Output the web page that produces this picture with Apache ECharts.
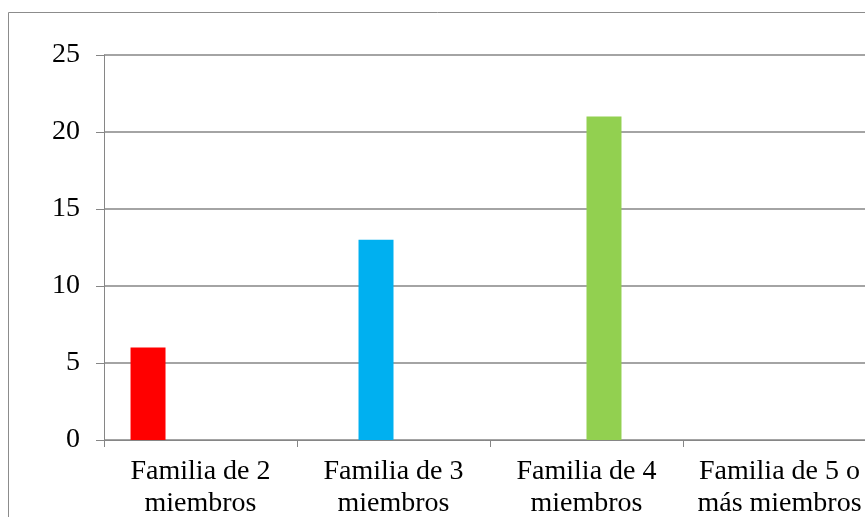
<!DOCTYPE html>
<html>
<head>
<meta charset="utf-8">
<script src="https://cdn.jsdelivr.net/npm/echarts@6/dist/echarts.min.js"></script>
<style>
  html, body { margin: 0; padding: 0; background: #fff; }
  #chart { width: 865px; height: 517px; }
</style>
</head>
<body>
<div id="chart"></div>
<script>
var categories = ["Familia de 2\nmiembros", "Familia de 3\nmiembros", "Familia de 4\nmiembros", "Familia de 5 o\nmás miembros"];
var familia2 = [6, null, null, null];
var familia3 = [null, 13, null, null];
var familia4 = [null, null, 21, null];
var familia5 = [null, null, null, 0];
var yTicks = [0, 5, 10, 15, 20, 25];

var font = "'Liberation Serif', 'Times New Roman', serif";
var grey = "#868686";

function bar(name, data, color) {
  return {
    name: name,
    type: "bar",
    data: data,
    barGap: "0%",
    barCategoryGap: "27.5%",
    itemStyle: { color: color },
    silent: true
  };
}

var myChart = echarts.init(document.getElementById("chart"));
myChart.setOption({
  animation: false,
  grid: {
    left: 104, top: 55, width: 772, height: 385,
    containLabel: false,
    outerBoundsMode: "none"
  },
  xAxis: {
    type: "category",
    data: categories,
    axisLine: { lineStyle: { color: grey, width: 1 } },
    axisTick: { show: true, length: 7, lineStyle: { color: grey } },
    axisLabel: {
      color: "#000",
      fontFamily: font,
      fontSize: 28,
      lineHeight: 32,
      margin: 16,
      interval: 0
    }
  },
  yAxis: {
    type: "value",
    min: yTicks[0],
    max: yTicks[yTicks.length - 1],
    interval: 5,
    axisLine: { show: true, lineStyle: { color: grey, width: 1 } },
    axisTick: { show: true, length: 8, lineStyle: { color: grey } },
    splitLine: { lineStyle: { color: grey, width: 1.5 } },
    axisLabel: { color: "#000", fontFamily: font, fontSize: 28, margin: 24 }
  },
  graphic: [
    {
      type: "rect",
      shape: { x: 8.5, y: 12.5, width: 1000, height: 1000 },
      style: { fill: "none", stroke: "#8c8c8c", lineWidth: 1 },
      z: -1
    }
  ],
  series: [
    bar("Familia de 2 miembros", familia2, "#FF0000"),
    bar("Familia de 3 miembros", familia3, "#00B0F0"),
    bar("Familia de 4 miembros", familia4, "#92D050"),
    bar("Familia de 5 o más miembros", familia5, "#7030A0")
  ]
});
</script>
</body>
</html>
